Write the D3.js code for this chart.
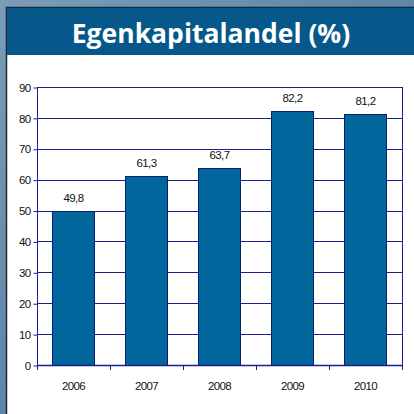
<!DOCTYPE html>
<html>
<head>
<meta charset="utf-8">
<script src="https://cdn.jsdelivr.net/npm/d3@7"></script>
<style>
  body { margin: 0; padding: 0; }
  svg { display: block; }
</style>
</head>
<body>
<script>
// chart data
var years = ["2006", "2007", "2008", "2009", "2010"];
var values = [49.8, 61.3, 63.7, 82.2, 81.2];
var labels = ["49,8", "61,3", "63,7", "82,2", "81,2"];
var yTicks = [0, 10, 20, 30, 40, 50, 60, 70, 80, 90];

var W = 414, H = 414;
var svg = d3.select("body").append("svg").attr("width", W).attr("height", H);

// slide background
var defs = svg.append("defs");
var grad = defs.append("linearGradient").attr("id", "bg")
  .attr("x1", "0").attr("y1", "0").attr("x2", "1").attr("y2", "1");
grad.append("stop").attr("offset", "0").attr("stop-color", "#7a9cb8");
grad.append("stop").attr("offset", "0.5").attr("stop-color", "#5f86a6");
grad.append("stop").attr("offset", "1").attr("stop-color", "#4f7898");
svg.append("rect").attr("width", W).attr("height", H).attr("fill", "url(#bg)");

// panel
svg.append("rect").attr("x", 6.5).attr("y", 7.5).attr("width", W).attr("height", H)
  .attr("fill", "#ffffff").attr("stroke", "#1c2a38").attr("stroke-width", 1.5);
svg.append("rect").attr("x", 7).attr("y", 8).attr("width", W).attr("height", 47)
  .attr("fill", "#06578a");
svg.append("text").attr("x", 211).attr("y", 43)
  .attr("text-anchor", "middle")
  .attr("font-family", "'Open Sans', sans-serif")
  .attr("font-weight", "bold").attr("font-size", 26.5)
  .attr("fill", "#ffffff")
  .text("Egenkapitalandel (%)");

// plot area
var pLeft = 37, pRight = 402, pTop = 87, pBottom = 365;
var x = d3.scaleBand().domain(years).range([pLeft, pRight]).paddingInner(0.42).paddingOuter(0.21);
var y = d3.scaleLinear().domain([0, 90]).range([pBottom, pTop]);

var g = svg.append("g");

// gridlines
g.selectAll(".grid").data(yTicks).enter().append("line")
  .attr("x1", pLeft).attr("x2", pRight)
  .attr("y1", function(d){ return Math.round(y(d)) + 0.5 })
  .attr("y2", function(d){ return Math.round(y(d)) + 0.5 })
  .attr("stroke", "#1a1f8c").attr("stroke-width", 1);
g.append("line").attr("x1", pRight + 0.5).attr("x2", pRight + 0.5)
  .attr("y1", pTop).attr("y2", pBottom).attr("stroke", "#1a1f8c");

// bars
g.selectAll(".bar").data(values).enter().append("rect")
  .attr("x", function(d, i){ return Math.round(x(years[i])) + 0.5 })
  .attr("y", function(d){ return Math.round(y(d)) + 0.5 })
  .attr("width", Math.round(x.bandwidth()))
  .attr("height", function(d){ return pBottom - Math.round(y(d)) })
  .attr("fill", "#00669c").attr("stroke", "#0b1e6e").attr("stroke-width", 1);

// value labels
g.selectAll(".lbl").data(labels).enter().append("text")
  .attr("x", function(d, i){ return x(years[i]) + x.bandwidth() / 2 })
  .attr("y", function(d, i){ return y(values[i]) - 9 })
  .attr("text-anchor", "middle")
  .attr("font-family", "'Liberation Sans', Arial, sans-serif")
  .attr("font-size", 11.5).attr("letter-spacing", -0.6)
  .attr("fill", "#111")
  .text(function(d){ return d });

// y axis
var yAxis = d3.axisLeft(y).tickValues(yTicks).tickSize(4).tickPadding(3);
var ya = svg.append("g").attr("transform", "translate(" + (pLeft + 0.5) + ",0.5)").call(yAxis);
ya.select(".domain").attr("stroke", "#1a1f8c").attr("d", "M0," + (pTop - 0.5) + "V" + (pBottom + 4));
ya.selectAll(".tick line").attr("stroke", "#1a1f8c");
ya.selectAll("text").attr("font-family", "'Liberation Sans', Arial, sans-serif")
  .attr("font-size", 11.5).attr("letter-spacing", -0.6).attr("fill", "#111");

// x axis
var xb = d3.scaleLinear().domain([0, 5]).range([pLeft, pRight]);
var xa = svg.append("g");
xa.append("line").attr("x1", pLeft).attr("x2", pRight + 1)
  .attr("y1", pBottom + 0.5).attr("y2", pBottom + 0.5)
  .attr("stroke", "#1a1f8c").attr("stroke-width", 1.5);
xa.selectAll(".xt").data(d3.range(6)).enter().append("line")
  .attr("x1", function(d){ return Math.round(xb(d)) + 0.5 })
  .attr("x2", function(d){ return Math.round(xb(d)) + 0.5 })
  .attr("y1", pBottom).attr("y2", pBottom + 5)
  .attr("stroke", "#1a1f8c");
xa.selectAll(".xl").data(years).enter().append("text")
  .attr("x", function(d){ return x(d) + x.bandwidth() / 2 })
  .attr("y", 390)
  .attr("text-anchor", "middle")
  .attr("font-family", "'Liberation Sans', Arial, sans-serif")
  .attr("font-size", 11.5).attr("letter-spacing", -0.6).attr("fill", "#111")
  .text(function(d){ return d });
</script>
</body>
</html>
